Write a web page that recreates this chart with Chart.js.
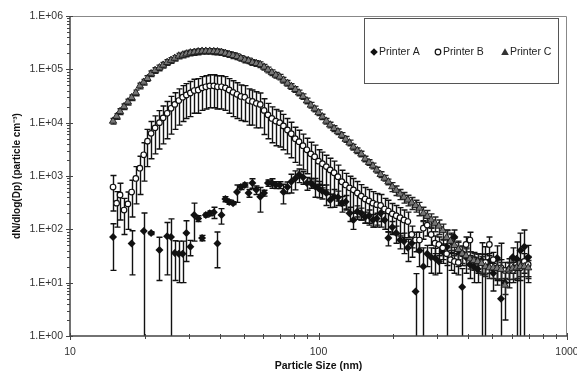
<!DOCTYPE html>
<html>
<head>
<meta charset="utf-8">
<script src="https://cdn.jsdelivr.net/npm/chart.js@4.4.1/dist/chart.umd.min.js"></script>
<style>
  html, body { margin: 0; padding: 0; background: #fff; }
  #wrap { width: 577px; height: 372px; position: relative; }
</style>
</head>
<body>
<div id="wrap"><canvas id="sizeChart"></canvas></div>
<script>
// SMPS size bins (nm)
const sizes = [14.9,15.4,15.9,16.5,17.1,17.7,18.4,19.1,19.8,20.5,21.2,22.0,22.9,23.7,24.6,25.5,26.4,27.4,28.4,29.4,
  30.5,31.6,32.8,34.0,35.2,36.5,37.9,39.2,40.7,42.2,43.7,45.3,47.0,48.7,50.5,52.3,54.2,56.2,58.3,60.4,
  62.6,64.9,67.3,69.8,72.3,75.0,77.7,80.6,83.5,86.6,89.8,93.1,96.5,100.0,103.7,107.5,111.4,115.5,119.7,124.1,
  128.6,133.3,138.2,143.3,148.6,154.0,159.6,165.5,171.5,177.8,184.4,191.1,198.1,205.4,212.9,220.7,228.8,237.2,245.8,254.8,
  264.2,273.8,283.9,294.3,305.1,316.2,327.8,339.8,352.3,365.2,378.6,392.4,406.8,421.7,437.1,453.2,469.8,487.0,504.8,523.3,
  542.5,562.3,583.0,604.3,626.5,649.4,673.2,697.8];

const printerA = [72,null,null,null,null,54,null,null,93,null,85,null,41,null,74,72,36,35,35,85,
  47,185,160,69,185,200,210,54,185,370,325,310,500,620,680,480,740,550,410,480,
  740,740,680,680,500,620,780,900,1050,950,740,740,650,590,520,480,355,410,400,310,
  330,200,150,215,200,170,180,150,160,200,150,69,110,85,63,60,45,55,6.8,40,
  20,35,30,29,25,38,47,60,72,40,8.3,30,22,20,18,26,22,25,15,29,
  5,10,18,30,28,40,47,30];
const printerAErr = [55,null,null,null,null,40,null,null,110,null,5,null,30,null,60,85,25,25,25,60,
  15,125,20,8,15,20,50,35,60,40,30,20,180,60,60,80,150,100,200,60,
  100,150,100,100,200,150,300,350,300,250,200,150,250,200,150,200,100,150,120,100,
  100,60,50,60,50,40,50,40,40,60,50,20,30,30,20,25,20,25,8,20,
  25,15,15,15,10,15,50,25,25,20,10,15,10,10,8,30,25,10,8,20,
  50,8,10,15,30,45,50,20];

const printerB = [620,310,440,230,300,500,900,1400,2500,4500,6300,8000,10000,12300,15000,18600,22000,26000,30000,33000,
  36000,40000,41000,45000,47000,49000,49000,47000,47000,45000,41000,37000,34000,31000,30000,26000,25000,23000,22000,17000,
  14000,12000,10700,10000,8700,7300,6200,5000,4400,3700,3100,2600,2300,1900,1700,1500,1300,1150,970,780,
  680,600,550,480,420,370,340,310,290,280,240,220,195,180,165,150,140,80,63,63,
  105,120,80,55,52,45,35,27,25,24,35,52,63,27,25,24,24,52,27,19,
  19,17,17,17,19,19,25,22];
const printerBErr = [400,200,290,150,200,330,600,950,1700,3000,4200,5400,6800,8300,10000,12500,14500,17000,19500,21000,
  23000,25000,26000,28000,29000,30000,30000,29000,29000,28000,26000,24000,22000,20000,19500,17000,16000,15000,14000,11000,
  9000,7800,7000,6500,5600,4700,4000,3200,2800,2400,2000,1700,1500,1200,1100,950,850,750,630,500,
  440,390,350,310,270,240,220,200,180,170,140,130,110,100,90,80,70,35,25,25,
  40,45,30,20,20,18,14,10,10,10,14,20,25,10,10,10,10,20,10,8,
  8,7,7,7,8,8,10,9];

const printerC = [10700,13200,16200,20000,24500,29500,36300,49000,57500,67600,83000,95500,107000,120000,135000,148000,162000,178000,186000,195000,
  204000,209000,214000,219000,219000,219000,216000,214000,209000,200000,191000,182000,174000,162000,151000,145000,135000,129000,123000,110000,
  98000,87000,78000,72000,63000,55000,48000,42000,36300,31000,25700,21400,18200,15500,12900,10700,9100,7800,6800,5800,
  4900,4200,3500,3000,2600,2100,1800,1550,1300,1070,910,780,630,540,460,400,355,315,280,250,
  200,175,150,130,115,95,70,60,50,42,35,32,28,26,25,23,20,19,19,18.6,
  17.8,9,17.4,18.6,19,20,20,19];
const printerCErr = [1300,1600,2000,2400,3000,3500,4400,5900,6900,8100,10000,11500,13000,14400,16000,18000,19000,21000,22000,23000,
  24000,25000,26000,26000,26000,26000,26000,26000,25000,24000,23000,22000,21000,19000,18000,17000,16000,15500,15000,13000,
  12000,10500,9400,8600,7600,6600,5800,5000,4400,3700,3100,2600,2200,1900,1500,1300,1100,950,820,700,
  600,500,420,360,310,250,220,190,160,130,110,95,120,110,100,90,80,80,70,70,
  60,50,45,40,35,30,25,20,18,15,12,11,10,9,9,8,7,7,7,7,
  6,3,6,7,7,7,7,7];

const xTicks = [10, 100, 1000];
const xTickLabels = ["10", "100", "1000"];
const yTicks = [1, 10, 100, 1000, 10000, 100000, 1000000];
const yTickLabels = ["1.E+00", "1.E+01", "1.E+02", "1.E+03", "1.E+04", "1.E+05", "1.E+06"];

const seriesNames = ["Printer A", "Printer B", "Printer C"];

Chart.defaults.font.family = '"Liberation Sans", Arial, sans-serif';
Chart.defaults.color = "#222";

function toPoints(values, errors) {
  const pts = [];
  values.forEach((v, i) => {
    if (v !== null) pts.push({ x: sizes[i], y: v, err: errors[i] });
  });
  return pts;
}

function minorValues(min, max) {
  const out = [];
  for (let p = min; p < max; p *= 10) {
    for (let k = 2; k <= 9; k++) out.push(p * k);
  }
  return out;
}

function drawMarker(ctx, style, x, y) {
  ctx.beginPath();
  if (style === "diamond") {
    ctx.fillStyle = "#111";
    ctx.moveTo(x, y - 3.8); ctx.lineTo(x + 3.8, y); ctx.lineTo(x, y + 3.8); ctx.lineTo(x - 3.8, y);
    ctx.closePath();
    ctx.fill();
  } else if (style === "circle") {
    ctx.fillStyle = "#fff";
    ctx.strokeStyle = "#111";
    ctx.lineWidth = 1.2;
    ctx.arc(x, y, 2.8, 0, Math.PI * 2);
    ctx.fill();
    ctx.stroke();
  } else {
    ctx.fillStyle = "#333";
    ctx.moveTo(x, y - 3.8); ctx.lineTo(x + 3.8, y + 3); ctx.lineTo(x - 3.8, y + 3);
    ctx.closePath();
    ctx.fill();
  }
}

const errorBars = {
  id: "errorBars",
  beforeDatasetsDraw(chart) {
    const { ctx, chartArea: a, scales: { x, y } } = chart;
    ctx.save();
    ctx.beginPath();
    ctx.rect(a.left, a.top, a.right - a.left, a.bottom - a.top);
    ctx.clip();
    chart.data.datasets.forEach(ds => {
      ctx.strokeStyle = ds.errorColor;
      ctx.lineWidth = 1.4;
      ds.data.forEach(p => {
        if (!p.err) return;
        const px = Math.round(x.getPixelForValue(p.x)) + 0.5;
        const top = y.getPixelForValue(p.y + p.err);
        const low = p.y - p.err;
        const bottom = low > 0 ? y.getPixelForValue(low) : a.bottom;
        ctx.beginPath();
        ctx.moveTo(px, top);
        ctx.lineTo(px, bottom);
        ctx.moveTo(px - 3, top);
        ctx.lineTo(px + 3, top);
        if (low > 0) {
          ctx.moveTo(px - 3, bottom);
          ctx.lineTo(px + 3, bottom);
        }
        ctx.stroke();
      });
    });
    ctx.restore();
  }
};

const frame = {
  id: "frame",
  afterDraw(chart) {
    const { ctx, chartArea: a, scales: { x, y } } = chart;
    ctx.save();
    // top and right border
    ctx.strokeStyle = "#888";
    ctx.lineWidth = 1;
    ctx.beginPath();
    ctx.moveTo(a.left, a.top + 0.5);
    ctx.lineTo(a.right - 0.5, a.top + 0.5);
    ctx.lineTo(a.right - 0.5, a.bottom);
    ctx.stroke();

    // axis lines
    ctx.strokeStyle = "#444";
    ctx.lineWidth = 1.5;
    ctx.beginPath();
    ctx.moveTo(a.left, a.top);
    ctx.lineTo(a.left, a.bottom);
    ctx.lineTo(a.right, a.bottom);
    ctx.stroke();

    // tick marks
    ctx.lineWidth = 1;
    ctx.beginPath();
    yTicks.forEach(v => {
      const py = Math.round(y.getPixelForValue(v)) + 0.5;
      ctx.moveTo(a.left - 4, py); ctx.lineTo(a.left + 3, py);
    });
    minorValues(1, 1000000).forEach(v => {
      const py = Math.round(y.getPixelForValue(v)) + 0.5;
      ctx.moveTo(a.left - 3, py); ctx.lineTo(a.left, py);
    });
    xTicks.forEach(v => {
      const px = Math.round(x.getPixelForValue(v)) + 0.5;
      ctx.moveTo(px, a.bottom - 3); ctx.lineTo(px, a.bottom + 4);
    });
    minorValues(10, 1000).forEach(v => {
      const px = Math.round(x.getPixelForValue(v)) + 0.5;
      ctx.moveTo(px, a.bottom - 2); ctx.lineTo(px, a.bottom + 3);
    });
    ctx.stroke();

    // legend
    const lx = 364.5, ly = 18.5, lw = 194, lh = 65;
    ctx.fillStyle = "#fff";
    ctx.fillRect(lx, ly, lw, lh);
    ctx.strokeStyle = "#555";
    ctx.lineWidth = 1;
    ctx.strokeRect(lx, ly, lw, lh);
    const styles = ["diamond", "circle", "triangle"];
    const itemX = [374, 438, 505];
    ctx.font = '10.5px "Liberation Sans", Arial, sans-serif';
    ctx.textBaseline = "middle";
    seriesNames.forEach((name, i) => {
      drawMarker(ctx, styles[i], itemX[i], 52);
      ctx.fillStyle = "#222";
      ctx.fillText(name, itemX[i] + 5, 52);
    });
    ctx.restore();
  }
};

new Chart(document.getElementById("sizeChart"), {
  type: "scatter",
  data: {
    datasets: [
      {
        label: seriesNames[0],
        data: toPoints(printerA, printerAErr),
        pointStyle: "rectRot",
        pointRadius: 4,
        backgroundColor: "#111",
        borderColor: "#111",
        borderWidth: 0,
        errorColor: "#111",
        order: 3
      },
      {
        label: seriesNames[1],
        data: toPoints(printerB, printerBErr),
        pointStyle: "circle",
        pointRadius: 2.8,
        backgroundColor: "#fff",
        borderColor: "#111",
        borderWidth: 1.2,
        errorColor: "#111",
        order: 2
      },
      {
        label: seriesNames[2],
        data: toPoints(printerC, printerCErr),
        pointStyle: "triangle",
        pointRadius: 4.2,
        backgroundColor: "#777",
        borderColor: "#1a1a1a",
        borderWidth: 0.9,
        errorColor: "#222",
        order: 1
      }
    ]
  },
  options: {
    responsive: true,
    maintainAspectRatio: false,
    devicePixelRatio: 1,
    animation: false,
    layout: { padding: { left: 0, top: 16, right: 10, bottom: 0 } },
    plugins: {
      legend: { display: false },
      tooltip: { enabled: false }
    },
    scales: {
      x: {
        type: "logarithmic",
        min: 10,
        max: 1000,
        grid: { display: false, drawTicks: false },
        border: { display: false },
        afterBuildTicks: s => { s.ticks = xTicks.map(v => ({ value: v })); },
        afterFit: s => { s.height = 36; s.paddingLeft = 0; s.paddingRight = 0; },
        ticks: {
          autoSkip: false,
          maxRotation: 0,
          padding: 10,
          font: { size: 10.5 },
          color: "#333",
          callback: (v, i) => xTickLabels[i]
        },
        title: {
          display: true,
          text: "Particle Size (nm)",
          font: { size: 10.5, weight: "bold" },
          color: "#111",
          padding: { top: 0, bottom: 0 }
        }
      },
      y: {
        type: "logarithmic",
        min: 1,
        max: 1000000,
        grid: { display: false, drawTicks: false },
        border: { display: false },
        afterBuildTicks: s => { s.ticks = yTicks.map(v => ({ value: v })); },
        afterFit: s => { s.width = 70; s.paddingTop = 0; s.paddingBottom = 0; },
        ticks: {
          autoSkip: false,
          padding: 7,
          font: { size: 10.5 },
          color: "#333",
          callback: (v, i) => yTickLabels[i]
        },
        title: {
          display: true,
          text: "dN/dlog(Dp) (particle cm\u207B\u00B3)",
          font: { size: 10, weight: "bold" },
          color: "#111",
          padding: { top: 11, bottom: 0 }
        }
      }
    }
  },
  plugins: [errorBars, frame]
});
</script>
</body>
</html>
